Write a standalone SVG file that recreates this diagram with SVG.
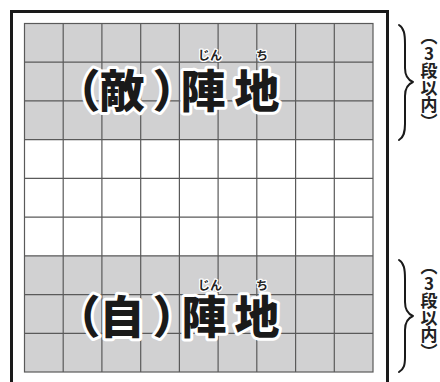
<svg xmlns="http://www.w3.org/2000/svg" width="440" height="382" viewBox="0 0 440 382">
  <style>
    .cell-gray { fill: #d1d1d2; }
    .grid { stroke: #5a5a5a; stroke-width: 1.2; fill: none; }
    .big { font-family: "Noto Sans CJK JP", sans-serif; font-weight: 900; font-size: 45px; fill: #1a1a1a; stroke: #ffffff; stroke-width: 6px; stroke-linejoin: round; paint-order: stroke; text-anchor: middle; }
    .ruby { font-family: "Noto Sans CJK JP", sans-serif; font-weight: 700; font-size: 12px; fill: #222; stroke: #ffffff; stroke-width: 2.5px; stroke-linejoin: round; paint-order: stroke; text-anchor: middle; }
    .vtext { font-family: "Noto Sans CJK JP", sans-serif; font-weight: 700; font-size: 17px; fill: #222; writing-mode: vertical-rl; text-orientation: upright; text-anchor: middle; }
    .brace { fill: none; stroke: #1a1a1a; stroke-width: 2; stroke-linecap: round; stroke-linejoin: round; }
  </style>
  <rect x="0" y="0" width="440" height="382" fill="#ffffff"/>
  <g id="frame">
    <rect x="11.5" y="11.5" width="376" height="400" fill="#ffffff" stroke="#1a1a1a" stroke-width="3"/>
  </g>
  <g id="board">
    <rect class="cell-gray" x="24.5" y="23.5" width="348.5" height="116.2"/>
    <rect class="cell-gray" x="24.5" y="255.8" width="348.5" height="116.2"/>
    <g class="grid">
      <rect x="24.5" y="23.5" width="348.5" height="348.5"/>
      <path d="M63.2 23.5V372M101.9 23.5V372M140.7 23.5V372M179.4 23.5V372M218.1 23.5V372M256.8 23.5V372M295.6 23.5V372M334.3 23.5V372
               M24.5 62.2H373M24.5 100.9H373M24.5 139.7H373M24.5 178.4H373M24.5 217.1H373M24.5 255.8H373M24.5 294.6H373M24.5 333.3H373"/>
    </g>
  </g>
  <g id="enemy-label">
    <text class="ruby" x="210" y="60">じん</text>
    <text class="ruby" x="262" y="60">ち</text>
    <text class="big" y="108"><tspan x="78">（</tspan><tspan x="122">敵</tspan><tspan x="175">）</tspan><tspan x="203">陣</tspan><tspan x="257">地</tspan></text>
  </g>
  <g id="own-label">
    <text class="ruby" x="210" y="290">じん</text>
    <text class="ruby" x="262" y="290">ち</text>
    <text class="big" y="334"><tspan x="78">（</tspan><tspan x="122">自</tspan><tspan x="175">）</tspan><tspan x="204">陣</tspan><tspan x="257">地</tspan></text>
  </g>
  <g id="connectors">
    <path class="brace" d="M399 25C404 28 405 34 405 44L405 68C405 76 408 80 413 82C408 84 405 88 405 96L405 124C405 132 404 137 399 140"/>
    <path class="brace" d="M399 260C404 263 405 269 405 279L405 302C405 310 408 314 413 316C408 318 405 322 405 330L405 357C405 365 404 369 399 372"/>
  </g>
  <g id="enemy-note">
    <text class="vtext" x="429" y="79">（3段以内）</text>
  </g>
  <g id="own-note">
    <text class="vtext" x="429" y="309">（3段以内）</text>
  </g>
</svg>
